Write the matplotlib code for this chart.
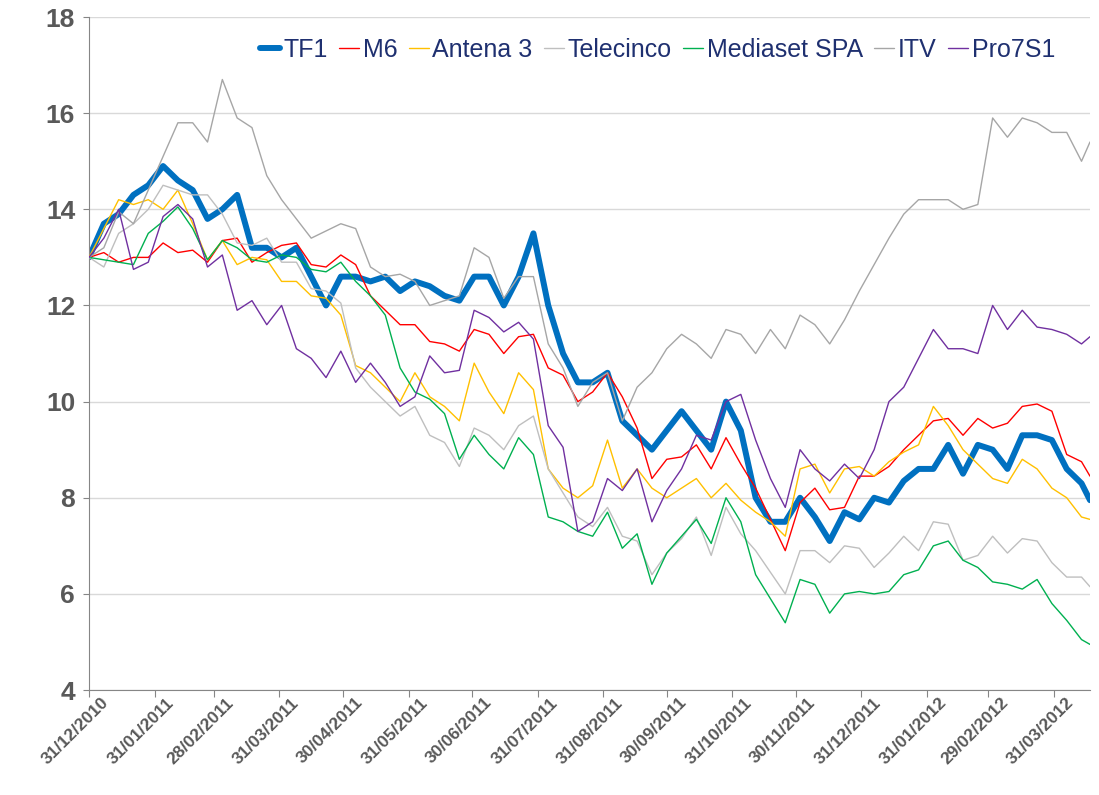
import numpy as np
import pandas as pd
import matplotlib
matplotlib.use("Agg")
import matplotlib.pyplot as plt
import matplotlib.transforms as mtransforms

# weekly closes (Fridays) rebased to 13, last point 17/04/2012
dates = list(pd.date_range("2010-12-31", periods=68, freq="7D")) + [pd.Timestamp("2012-04-17")]

tf1 = [13.0, 13.7, 13.9, 14.3, 14.5, 14.9, 14.6, 14.4, 13.8, 14.0, 14.3, 13.2, 13.2, 13.0, 13.2,
       12.6, 12.0, 12.6, 12.6, 12.5, 12.6, 12.3, 12.5, 12.4, 12.2, 12.1, 12.6, 12.6, 12.0, 12.6,
       13.5, 12.0, 11.0, 10.4, 10.4, 10.6, 9.6, 9.3, 9.0, 9.4, 9.8, 9.4, 9.0, 10.0, 9.4,
       8.0, 7.5, 7.5, 8.0, 7.6, 7.1, 7.7, 7.55, 8.0, 7.9, 8.35, 8.6, 8.6, 9.1, 8.5,
       9.1, 9.0, 8.6, 9.3, 9.3, 9.2, 8.6, 8.3, 7.95]
m6 = [13.0, 13.1, 12.9, 13.0, 13.0, 13.3, 13.1, 13.15, 12.9, 13.35, 13.4, 12.9, 13.1, 13.25, 13.3,
      12.85, 12.8, 13.05, 12.85, 12.2, 11.9, 11.6, 11.6, 11.25, 11.2, 11.05, 11.5, 11.4, 11.0, 11.35,
      11.4, 10.7, 10.55, 10.0, 10.2, 10.6, 10.1, 9.45, 8.4, 8.8, 8.85, 9.1, 8.6, 9.25, 8.7,
      8.2, 7.55, 6.9, 7.9, 8.2, 7.75, 7.8, 8.45, 8.45, 8.65, 9.0, 9.3, 9.6, 9.65, 9.3,
      9.65, 9.45, 9.55, 9.9, 9.95, 9.8, 8.9, 8.75, 8.45]
antena3 = [13.0, 13.6, 14.2, 14.1, 14.2, 14.0, 14.4, 13.7, 12.95, 13.35, 12.85, 13.0, 12.95, 12.5, 12.5,
           12.2, 12.15, 11.8, 10.75, 10.6, 10.3, 10.0, 10.6, 10.1, 9.9, 9.6, 10.8, 10.2, 9.75, 10.6,
           10.25, 8.6, 8.2, 8.0, 8.25, 9.2, 8.2, 8.6, 8.2, 8.0, 8.2, 8.4, 8.0, 8.3, 7.95,
           7.7, 7.5, 7.2, 8.6, 8.7, 8.1, 8.6, 8.65, 8.45, 8.75, 8.95, 9.1, 9.9, 9.5, 9.0,
           8.7, 8.4, 8.3, 8.8, 8.6, 8.2, 8.0, 7.6, 7.55]
telecinco = [13.0, 12.8, 13.5, 13.7, 14.0, 14.5, 14.4, 14.3, 14.3, 13.9, 13.3, 13.25, 13.4, 12.9, 12.9,
             12.35, 12.3, 12.05, 10.7, 10.3, 10.0, 9.7, 9.9, 9.3, 9.15, 8.65, 9.45, 9.3, 9.0, 9.5,
             9.7, 8.6, 8.1, 7.6, 7.4, 7.8, 7.2, 7.1, 6.4, 6.85, 7.15, 7.6, 6.8, 7.8, 7.25,
             6.9, 6.45, 6.0, 6.9, 6.9, 6.65, 7.0, 6.95, 6.55, 6.85, 7.2, 6.9, 7.5, 7.45, 6.7,
             6.8, 7.2, 6.85, 7.15, 7.1, 6.65, 6.35, 6.35, 6.15]
mediaset = [13.0, 12.95, 12.9, 12.85, 13.5, 13.75, 14.05, 13.6, 12.95, 13.35, 13.2, 12.95, 12.9, 13.05, 13.0,
            12.75, 12.7, 12.9, 12.5, 12.2, 11.8, 10.7, 10.2, 10.05, 9.75, 8.8, 9.3, 8.9, 8.6, 9.25,
            8.9, 7.6, 7.5, 7.3, 7.2, 7.7, 6.95, 7.25, 6.2, 6.85, 7.2, 7.55, 7.05, 8.0, 7.5,
            6.4, 5.9, 5.4, 6.3, 6.2, 5.6, 6.0, 6.05, 6.0, 6.05, 6.4, 6.5, 7.0, 7.1, 6.7,
            6.55, 6.25, 6.2, 6.1, 6.3, 5.8, 5.45, 5.05, 4.95]
itv = [13.0, 13.2, 13.95, 13.7, 14.4, 15.1, 15.8, 15.8, 15.4, 16.7, 15.9, 15.7, 14.7, 14.2, 13.8,
       13.4, 13.55, 13.7, 13.6, 12.8, 12.6, 12.65, 12.5, 12.0, 12.1, 12.2, 13.2, 13.0, 12.15, 12.6,
       12.6, 11.2, 10.7, 9.9, 10.4, 10.6, 9.6, 10.3, 10.6, 11.1, 11.4, 11.2, 10.9, 11.5, 11.4,
       11.0, 11.5, 11.1, 11.8, 11.6, 11.2, 11.7, 12.3, 12.85, 13.4, 13.9, 14.2, 14.2, 14.2, 14.0,
       14.1, 15.9, 15.5, 15.9, 15.8, 15.6, 15.6, 15.0, 15.4]
pro7s1 = [13.0, 13.4, 14.0, 12.75, 12.9, 13.85, 14.1, 13.8, 12.8, 13.05, 11.9, 12.1, 11.6, 12.0, 11.1,
          10.9, 10.5, 11.05, 10.4, 10.8, 10.4, 9.9, 10.1, 10.95, 10.6, 10.65, 11.9, 11.75, 11.45, 11.65,
          11.3, 9.5, 9.05, 7.3, 7.5, 8.4, 8.15, 8.6, 7.5, 8.15, 8.6, 9.3, 9.2, 10.0, 10.15,
          9.2, 8.4, 7.8, 9.0, 8.6, 8.35, 8.7, 8.4, 9.0, 10.0, 10.3, 10.9, 11.5, 11.1, 11.1,
          11.0, 12.0, 11.5, 11.9, 11.55, 11.5, 11.4, 11.2, 11.35]

series_names = ["TF1", "M6", "Antena 3", "Telecinco", "Mediaset SPA", "ITV", "Pro7S1"]
series_vals = [tf1, m6, antena3, telecinco, mediaset, itv, pro7s1]
colors = ["#0070C0", "#FF0000", "#FFC000", "#BFBFBF", "#00B050", "#A6A6A6", "#7030A0"]

tick_dates = ["2010-12-31", "2011-01-31", "2011-02-28", "2011-03-31", "2011-04-30", "2011-05-31",
              "2011-06-30", "2011-07-31", "2011-08-31", "2011-09-30", "2011-10-31", "2011-11-30",
              "2011-12-31", "2012-01-31", "2012-02-29", "2012-03-31"]
y_ticks = [4, 6, 8, 10, 12, 14, 16, 18]

plt.rcParams["font.family"] = ["Liberation Sans", "DejaVu Sans"]

fig = plt.figure(figsize=(10.99, 7.95), dpi=100)
ax = fig.add_axes([0.081, 0.132, 0.9918 - 0.081, 0.9786 - 0.132])

for i, (name, vals) in enumerate(zip(series_names, series_vals)):
    lw = 4.3 if name == "TF1" else 1.0
    ax.plot(dates, vals, color=colors[i], linewidth=lw, label=name,
            solid_joinstyle="round", solid_capstyle="round", zorder=2 + i)

ax.set_xlim(pd.Timestamp("2010-12-31"), pd.Timestamp("2012-04-17"))
ax.set_ylim(4, 18)

ax.set_yticks(y_ticks)
ax.set_yticklabels([str(v) for v in y_ticks], fontsize=19, fontweight="bold", color="#595959")
ax.yaxis.grid(True, color="#D9D9D9", linewidth=1.0)
ax.set_axisbelow(True)

tks = [pd.Timestamp(d) for d in tick_dates]
ax.set_xticks(tks)
ax.set_xticklabels([])
# date labels drawn as texts so they can sit a bit right of the tick, like Excel
lab_tr = ax.get_xaxis_transform() + mtransforms.ScaledTranslation(12 / 100, -5 / 100, fig.dpi_scale_trans)
for t in tks:
    ax.text(t, 0, t.strftime("%d/%m/%Y"), transform=lab_tr, rotation=45, ha="right", va="top",
            rotation_mode="anchor", fontsize=12.5, fontweight="bold", color="#595959", clip_on=False)

for s in ["top", "right"]:
    ax.spines[s].set_visible(False)
ax.spines["left"].set_color("#868686")
ax.spines["bottom"].set_color("#868686")
ax.tick_params(axis="y", length=4, color="#868686", pad=6)
ax.tick_params(axis="x", length=5, color="#868686", pad=4)

leg = ax.legend(loc="center right", bbox_to_anchor=(0.975, 0.951), ncol=7, frameon=False,
                fontsize=18, handlelength=0.8, handletextpad=0.15, columnspacing=0.45,
                borderaxespad=0)
for t in leg.get_texts():
    t.set_color("#1F3070")

fig.savefig("out.png", dpi=100)
